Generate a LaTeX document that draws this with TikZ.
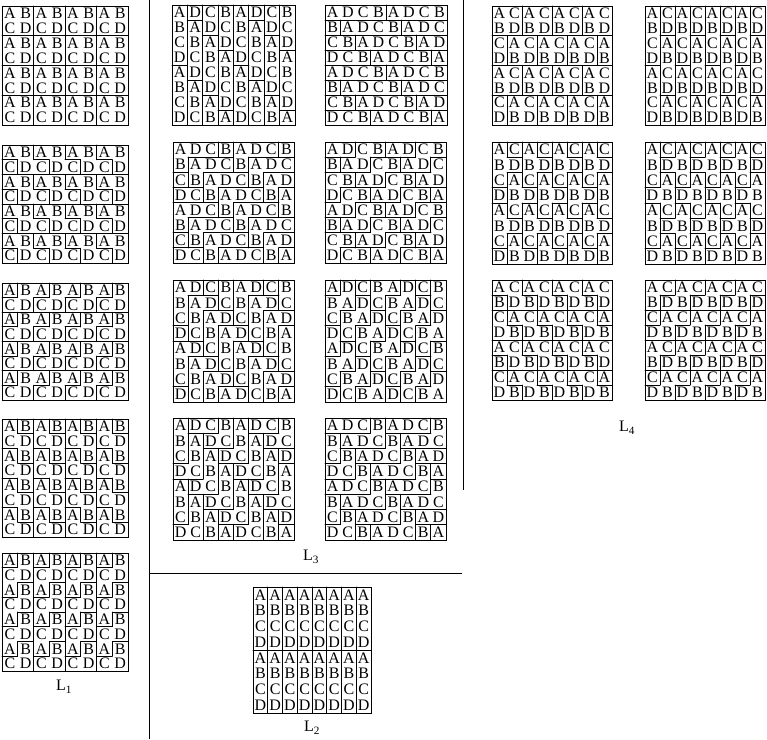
\documentclass[tikz,border=0pt]{standalone}
\usepackage{fontspec}
\setmainfont{Liberation Serif}
\usepackage{tikz}

\tikzset{
  lett/.style={inner sep=0pt, font=\fontsize{16}{16}\selectfont},
  tilerule/.style={line width=0.8pt, line cap=round},
  sepline/.style={line width=0.8pt},
  lab/.style={inner sep=0pt, font=\fontsize{16}{16}\selectfont}
}

% letter index (0=A,1=B,2=C,3=D) of cell \row,\col
\def\letA{2*mod(\row,2)+mod(\col,2)}
\def\letB{mod(\row-\col+400,4)}
\def\letC{mod(\row,4)}
\def\letD{2*mod(\col+floor(\row/2),2)+mod(\row,2)}
% anchor lattices, tested on \yr,\yc
\def\latA{and(equal(mod(\yr+100,2),0),equal(mod(\yc+100,2),0))}
\def\latB{equal(mod((\yc)-(\yr)+400,4),0)}
\def\latC{equal(mod(\yr+100,4),0)}
\def\latD{and(equal(mod(\yr+100,2),0),equal(mod(\yc+(\yr+100)/2+100,2),0))}
% tile shapes, offsets row/col from the anchor
\def\shO{0/0,0/1,1/0,1/1}
\def\shZh{0/0,0/1,1/1,1/2}
\def\shSh{0/1,0/2,1/0,1/1}
\def\shSv{0/0,1/0,1/1,2/1}
\def\shZv{0/1,1/1,1/0,2/0}
\def\shIv{0/0,1/0,2/0,3/0}
\def\shIh{0/0,0/1,0/2,0/3}
\def\shLa{0/0,0/1,0/2,1/0}
\def\shLb{0/0,0/1,-1/1,-1/2}
\def\shLc{0/0,1/0,2/0,0/1}
\def\shLd{0/0,-1/0,0/-1,1/-1}
\def\shLe{0/0,1/0,2/0,2/-1}
\def\shLf{0/0,0/1,0/2,-1/2}
\def\shT{0/0,1/0,2/0,1/1}
\def\shTm{0/0,1/0,2/0,1/-1}
\def\shSa{0/0,0/1,1/-1,1/0}

% name, x0, y0, x1, y1, letters, lattice, shape
\newcommand\tgrid[8]{%
  \begin{scope}[shift={(#2,#3)},xscale={(#4-#2)/8},yscale={(#5-#3)/8}]
    \foreach \row in {0,...,7}{
      \foreach \col in {0,...,7}{
        \pgfmathtruncatemacro\li{#6}
        \node[lett] (#1-\row-\col) at (\col+0.5,\row+0.5) {\ifcase\li\relax A\or B\or C\or D\fi};
        \foreach \pr/\pc in #8{
          \pgfmathtruncatemacro\yr{\row-(\pr)}
          \pgfmathtruncatemacro\yc{\col-(\pc)}
          \pgfmathtruncatemacro\ok{#7}
          \ifnum\ok=1
            \pgfmathtruncatemacro\tn{(\yr+20)*100+\yc+20}
            \expandafter\xdef\csname tid\row-\col\endcsname{\tn}
          \fi
        }
      }
    }
    \foreach \row in {0,...,7}{
      \foreach \col in {0,...,7}{
        \pgfmathtruncatemacro\nc{\col+1}
        \pgfmathtruncatemacro\nr{\row+1}
        \ifnum\col<7
          \ifnum\csname tid\row-\col\endcsname=\csname tid\row-\nc\endcsname\relax\else
            \draw[tilerule] (\nc,\row) -- (\nc,\nr);
          \fi
        \fi
        \ifnum\row<7
          \ifnum\csname tid\row-\col\endcsname=\csname tid\nr-\col\endcsname\relax\else
            \draw[tilerule] (\col,\nr) -- (\nc,\nr);
          \fi
        \fi
      }
    }
    \draw[tilerule] (0,0) rectangle (8,8);
  \end{scope}}

\begin{document}
\begin{tikzpicture}[x=1pt, y=-1pt]
\useasboundingbox (0,0) rectangle (767,739);
% L1
\tgrid{pa}{2}{6}{128}{125}{\letA}{\latA}{\shO}
\tgrid{pb}{2}{145}{128}{263}{\letA}{\latA}{\shZh}
\tgrid{pc}{2}{283}{128}{400}{\letA}{\latA}{\shSh}
\tgrid{pd}{2}{419}{128}{537}{\letA}{\latA}{\shSv}
\tgrid{pe}{2}{553}{128}{671}{\letA}{\latA}{\shZv}
% L3
\tgrid{qa}{172}{5}{295}{125}{\letB}{\latB}{\shIv}
\tgrid{qb}{325}{5}{447}{125}{\letB}{\latB}{\shIh}
\tgrid{qc}{173}{142}{294}{263}{\letB}{\latB}{\shLa}
\tgrid{qd}{325}{142}{446}{263}{\letB}{\latB}{\shLb}
\tgrid{qe}{173}{280}{294}{402}{\letB}{\latB}{\shLc}
\tgrid{qf}{325}{280}{446}{402}{\letB}{\latB}{\shLd}
\tgrid{qg}{173}{418}{294}{540}{\letB}{\latB}{\shLe}
\tgrid{qh}{325}{418}{446}{540}{\letB}{\latB}{\shLf}
% L2
\tgrid{ra}{253}{587}{371}{713}{\letC}{\latC}{\shIv}
% L4
\tgrid{sa}{492}{6}{612}{125}{\letD}{\latD}{\shO}
\tgrid{sb}{645}{6}{765}{125}{\letD}{\latD}{\shIv}
\tgrid{sc}{492}{142}{612}{264}{\letD}{\latD}{\shT}
\tgrid{sd}{645}{142}{765}{264}{\letD}{\latD}{\shTm}
\tgrid{se}{492}{280}{612}{400}{\letD}{\latD}{\shZh}
\tgrid{sf}{645}{280}{765}{400}{\letD}{\latD}{\shSa}

\draw[sepline] (149,0) -- (149,739);
\draw[sepline] (149,573) -- (462,573);
\draw[sepline] (463,0) -- (463,490);

\node[lab] (l1) at (64,687) {L\textsubscript{1}};
\node[lab] (l3) at (311,557) {L\textsubscript{3}};
\node[lab] (l2) at (312,728) {L\textsubscript{2}};
\node[lab] (l4) at (627,428) {L\textsubscript{4}};
\end{tikzpicture}
\end{document}
